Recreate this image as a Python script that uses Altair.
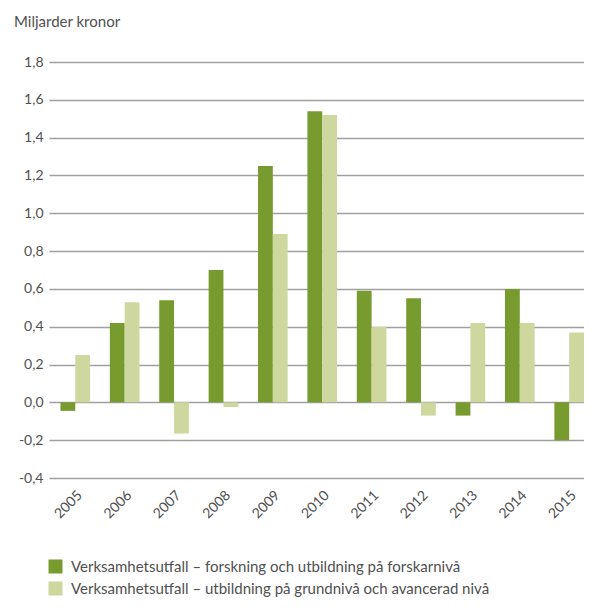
import altair as alt
import pandas as pd

years = ["2005", "2006", "2007", "2008", "2009", "2010", "2011", "2012", "2013", "2014", "2015"]
forskar = [-0.045, 0.42, 0.54, 0.70, 1.25, 1.54, 0.59, 0.55, -0.07, 0.60, -0.20]
grund = [0.25, 0.53, -0.165, -0.025, 0.89, 1.52, 0.40, -0.07, 0.42, 0.42, 0.37]
series = [
    "Verksamhetsutfall – forskning och utbildning på forskarnivå",
    "Verksamhetsutfall – utbildning på grundnivå och avancerad nivå",
]
colors = ["#789b2f", "#cdd79e"]
y_ticks = [-0.4, -0.2, 0.0, 0.2, 0.4, 0.6, 0.8, 1.0, 1.2, 1.4, 1.6, 1.8]

rows = []
for i, y in enumerate(years):
    rows.append({"year": y, "series": series[0], "order": 0, "value": forskar[i]})
    rows.append({"year": y, "series": series[1], "order": 1, "value": grund[i]})
df = pd.DataFrame(rows)

FONT = "Lato"
TXT = "#505050"

chart = alt.Chart(df).mark_bar().encode(
    x=alt.X("year:N", sort=years,
            scale=alt.Scale(paddingInner=0.4, paddingOuter=0.116, align=1.0),
            axis=alt.Axis(title=None, labelAngle=-45, labelAlign="right", labelBaseline="top",
                          labelPadding=10, ticks=False, domain=False, grid=False,
                          labelFontSize=14, labelColor=TXT, labelFont=FONT)),
    xOffset=alt.XOffset("order:O"),
    y=alt.Y("value:Q", scale=alt.Scale(domain=[-0.4, 1.8], nice=False),
            axis=alt.Axis(title=None, values=y_ticks, ticks=False, domain=False,
                          gridColor="#a0a0a0", gridWidth=1.5, gridOpacity=1,
                          labelPadding=6, labelFontSize=14, labelColor=TXT, labelFont=FONT,
                          labelExpr="replace(replace(format(datum.value, '.1f'), '.', ','), '\u2212', '-')")),
    color=alt.Color("series:N", sort=series,
                    scale=alt.Scale(domain=series, range=colors),
                    legend=alt.Legend(title=None, orient="none", legendX=-1, legendY=497,
                                      symbolType="square", symbolSize=196, symbolStrokeWidth=0,
                                      labelFontSize=15, labelColor=TXT, labelFont=FONT,
                                      labelOffset=8, rowPadding=6, labelLimit=600)),
).properties(
    width=535,
    height=416,
    autosize=alt.AutoSizeParams(type="none"),
    padding={"left": 41, "top": 54, "right": 0, "bottom": 122},
    title=alt.TitleParams("Miljarder kronor", anchor="start", frame="group", dx=-35,
                          offset=13, baseline="alphabetic", fontSize=15, font=FONT,
                          fontWeight="normal", color=TXT),
).configure_view(stroke=None)

chart.save("out.html", embed_options={"renderer": "svg", "actions": False})
